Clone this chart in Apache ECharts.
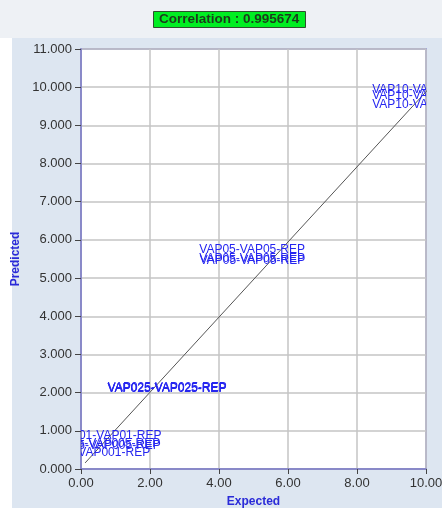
<!DOCTYPE html>
<html>
<head>
<meta charset="utf-8">
<script src="https://cdn.jsdelivr.net/npm/echarts@6/dist/echarts.min.js"></script>
<style>
  html, body { margin: 0; padding: 0; background: #ffffff; }
  #chart { width: 442px; height: 508px; }
</style>
</head>
<body>
<div id="chart"></div>
<script>
// sample names, expected vs predicted concentrations
var names = [
    'VAP10-VAP10-REP', 'VAP10-VAP10-REP', 'VAP10-VAP10-REP',
    'VAP05-VAP05-REP', 'VAP05-VAP05-REP', 'VAP05-VAP05-REP',
    'VAP025-VAP025-REP', 'VAP025-VAP025-REP', 'VAP025-VAP025-REP',
    'VAP01-VAP01-REP', 'VAP005-VAP005-REP', 'VAP005-VAP005-REP',
    'VAP001-VAP001-REP'
];
var expected = [9.97, 9.97, 9.97, 4.96, 4.96, 4.97, 2.49, 2.49, 2.50, 0.80, 0.57, 0.59, 0.28];
var predicted = [9.93, 9.78, 9.55, 5.74, 5.50, 5.46, 2.11, 2.11, 2.12, 0.86, 0.65, 0.62, 0.42];

// fitted line end points
var fitX = [0.12, 10.05];
var fitY = [0.16, 9.93];

var xTicks = [0, 2, 4, 6, 8, 10];
var yTicks = [0, 1, 2, 3, 4, 5, 6, 7, 8, 9, 10, 11];

var pts = expected.map(function (x, i) { return [x, predicted[i], names[i]]; });
var line = fitX.map(function (x, i) { return [x, fitY[i]]; });

var myChart = echarts.init(document.getElementById('chart'));
var option = {
    backgroundColor: '#ffffff',
    animation: false,
    graphic: [
        { type: 'rect', z: -10, shape: { x: 0, y: 0, width: 442, height: 38 }, style: { fill: '#eef1f5' } },
        { type: 'rect', z: -10, shape: { x: 12, y: 38, width: 430, height: 470 }, style: { fill: '#dde6f1' } }
    ],
    title: {
        text: 'Correlation : 0.995674',
        left: 153,
        top: 11,
        padding: [1, 6],
        backgroundColor: '#00ee22',
        borderColor: '#2f4f2f',
        borderWidth: 1,
        textStyle: {
            fontFamily: 'Liberation Sans',
            fontSize: 13.5,
            fontWeight: 'bold',
            color: '#1c3a1c',
            lineHeight: 15
        }
    },
    grid: {
        left: 81,
        right: 16,
        top: 49,
        bottom: 39,
        outerBoundsMode: 'none',
        containLabel: false,
        show: true,
        backgroundColor: '#ffffff',
        borderColor: '#7a7ac8',
        borderWidth: 1.5
    },
    xAxis: {
        type: 'value',
        min: 0,
        max: 10,
        interval: 2,
        name: 'Expected',
        nameLocation: 'middle',
        nameGap: 27,
        nameTextStyle: { fontFamily: 'Liberation Sans', fontSize: 12, fontWeight: 'bold', color: '#2a2ad8' },
        axisLine: { lineStyle: { color: '#7a7ac8', width: 1.5 } },
        axisTick: { length: 5, lineStyle: { color: '#444' } },
        axisLabel: {
            fontFamily: 'Liberation Sans', fontSize: 13, color: '#333', margin: 8,
            formatter: function (v) { return xTicks.indexOf(v) >= 0 ? v.toFixed(2) : ''; }
        },
        splitLine: { lineStyle: { color: '#c4c4c4', width: 1.5 } }
    },
    yAxis: {
        type: 'value',
        min: 0,
        max: 11,
        interval: 1,
        name: 'Predicted',
        nameLocation: 'middle',
        nameGap: 54,
        nameTextStyle: { fontFamily: 'Liberation Sans', fontSize: 12, fontWeight: 'bold', color: '#2a2ad8' },
        axisLine: { lineStyle: { color: '#7a7ac8', width: 1.5 } },
        axisTick: { length: 6, lineStyle: { color: '#444' } },
        axisLabel: {
            fontFamily: 'Liberation Sans', fontSize: 13, color: '#333', margin: 9,
            formatter: function (v) { return yTicks.indexOf(v) >= 0 ? v.toFixed(3) : ''; }
        },
        splitLine: { lineStyle: { color: '#c4c4c4', width: 1.5 } }
    },
    series: [
        {
            type: 'line',
            data: line,
            symbol: 'none',
            lineStyle: { color: '#555555', width: 1 },
            z: 3
        },
        {
            type: 'custom',
            clip: true,
            data: pts,
            z: 4,
            renderItem: function (params, api) {
                var p = api.coord([api.value(0), api.value(1)]);
                return {
                    type: 'text',
                    x: p[0],
                    y: p[1],
                    style: {
                        text: names[params.dataIndex],
                        fill: '#2626f0',
                        font: '12px "Liberation Sans"',
                        align: 'center',
                        verticalAlign: 'middle'
                    }
                };
            }
        }
    ]
};
myChart.setOption(option);
window.addEventListener('resize', () => {
    myChart.resize();
});
</script>
</body>
</html>
